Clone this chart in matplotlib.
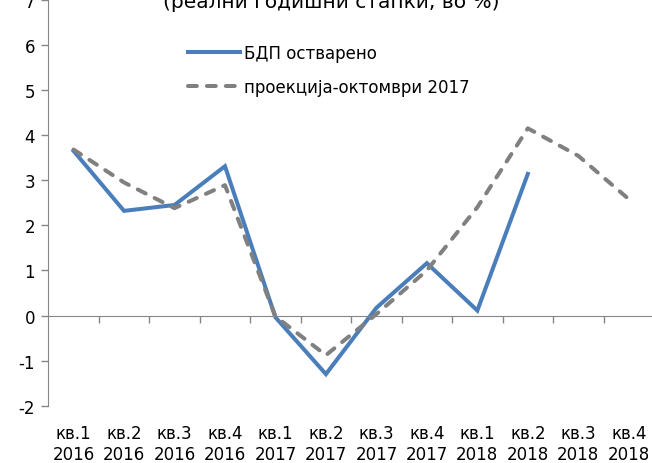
import numpy as np
import matplotlib.pyplot as plt
from matplotlib.transforms import blended_transform_factory

plt.rcParams['font.family'] = 'DejaVu Sans'
plt.rcParams['axes.unicode_minus'] = False

# quarters and GDP growth rates (real annual rates, %)
quarters = ['кв.1\n2016', 'кв.2\n2016', 'кв.3\n2016', 'кв.4\n2016',
            'кв.1\n2017', 'кв.2\n2017', 'кв.3\n2017', 'кв.4\n2017',
            'кв.1\n2018', 'кв.2\n2018', 'кв.3\n2018', 'кв.4\n2018']
gdp_actual = [3.65, 2.32, 2.45, 3.31, -0.04, -1.30, 0.17, 1.16, 0.11, 3.14]
gdp_projection = [3.68, 2.95, 2.38, 2.89, -0.02, -0.88, 0.03, 1.0, 2.4, 4.15, 3.54, 2.58]
yticks = [-2, -1, 0, 1, 2, 3, 4, 5, 6, 7]

fig = plt.figure(figsize=(6.52, 4.64), dpi=100)
ax = fig.add_axes([48.3 / 652, 57.3 / 464, 605.7 / 652, 405.9 / 464])

x_act = np.arange(len(gdp_actual))
x_proj = np.arange(len(gdp_projection))

ax.plot(x_act, gdp_actual, color='#4A7EBB', lw=2.9, solid_joinstyle='miter',
        label='БДП остварено')
ax.plot(x_proj, gdp_projection, color='#808080', lw=2.9,
        linestyle=(0, (2.2, 2.5)), dash_capstyle='round',
        label='проекција-октомври 2017')

ax.set_xlim(-0.5, len(quarters) - 0.5)
ax.set_ylim(-2, 7)
ax.set_yticks(yticks)
ax.set_yticklabels([str(v) for v in yticks], fontsize=12)

gray = '#868686'
for s in ['top', 'right']:
    ax.spines[s].set_visible(False)
ax.spines['left'].set_color(gray)
ax.spines['bottom'].set_color(gray)
ax.spines['bottom'].set_position(('data', 0))

# tick marks between categories on the zero line
ax.set_xticks(np.arange(0.5, len(quarters) - 1, 1.0))
ax.set_xticklabels([])
ax.tick_params(axis='x', direction='out', length=5, color=gray, width=1)
ax.tick_params(axis='y', direction='out', length=5, color=gray, width=1, pad=4.5)

# category labels under the plot area
trans = blended_transform_factory(ax.transData, ax.transAxes)
for i, q in enumerate(quarters):
    ax.text(i, -0.045, q, transform=trans, ha='center', va='top',
            fontsize=12, linespacing=1.25)

ax.legend(loc='upper left', bbox_to_anchor=(188 / 652, 1 - 45 / 464),
          bbox_transform=fig.transFigure, frameon=False, fontsize=12,
          handlelength=3.1, handletextpad=0.25, labelspacing=0.95,
          borderpad=0, borderaxespad=0)

fig.text(331 / 652, 1 - 8 / 464, '(реални годишни стапки, во %)',
         ha='center', va='baseline', fontsize=14.5)

fig.savefig('out.png', dpi=100)
